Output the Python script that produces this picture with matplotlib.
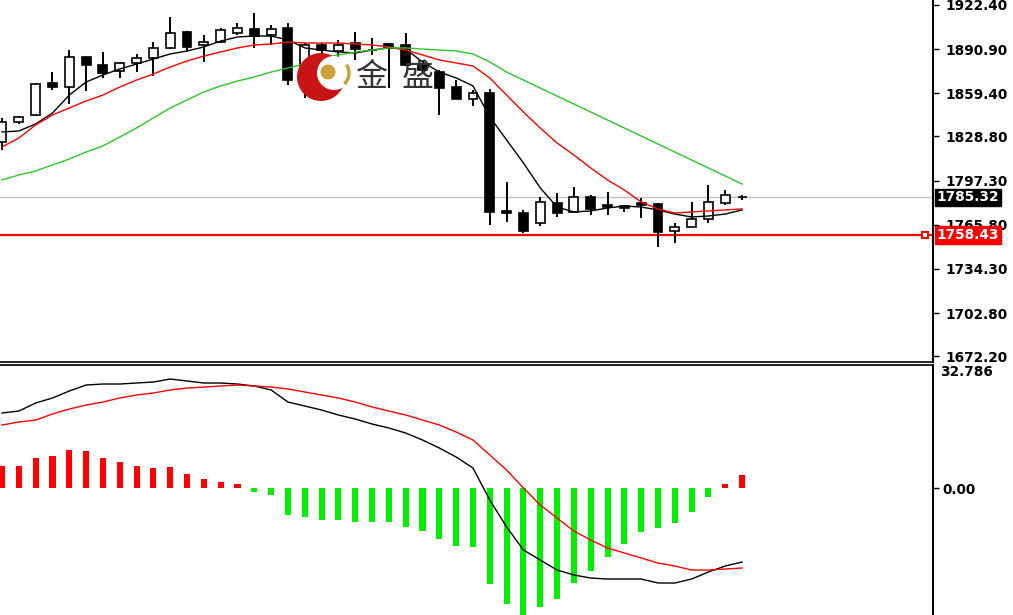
import numpy as np
import matplotlib.pyplot as plt
from matplotlib.patches import Ellipse, Arc
from matplotlib.transforms import blended_transform_factory

# candles (daily gold)
opens = [1824.8, 1839.0, 1844.0, 1866.8, 1864.0, 1885.3, 1879.6, 1875.4, 1881.1, 1884.6,
         1891.8, 1903.2, 1893.9, 1896.0, 1902.4, 1905.3, 1901.0, 1906.0, 1868.9, 1893.9,
         1889.6, 1895.3, 1890.3, 1894.6, 1893.9, 1880.3, 1874.6, 1864.0, 1855.4, 1859.7,
         1775.6, 1774.1, 1767.0, 1781.3, 1774.9, 1785.5, 1779.8, 1779.1, 1781.3, 1780.6,
         1761.3, 1764.2, 1769.9, 1781.3, 1785.2]
highs = [1841.9, 1843.3, 1866.8, 1874.6, 1890.3, 1885.6, 1888.9, 1881.8, 1887.5, 1896.0,
         1913.9, 1903.9, 1901.0, 1906.0, 1909.6, 1916.7, 1908.1, 1909.6, 1895.3, 1895.3,
         1897.4, 1903.2, 1898.9, 1895.3, 1902.4, 1883.2, 1876.1, 1868.9, 1861.8, 1862.5,
         1796.2, 1776.3, 1785.5, 1788.4, 1792.7, 1787.0, 1789.1, 1779.8, 1784.8, 1781.3,
         1767.0, 1782.0, 1794.1, 1790.5, 1787.0]
lows = [1819.0, 1837.6, 1843.3, 1861.8, 1851.8, 1861.1, 1870.4, 1870.4, 1874.6, 1871.8,
        1891.0, 1888.9, 1881.8, 1895.3, 1901.0, 1891.8, 1893.9, 1865.4, 1856.1, 1886.0,
        1881.8, 1883.2, 1886.8, 1863.2, 1878.9, 1873.2, 1844.0, 1855.4, 1850.4, 1765.6,
        1767.7, 1759.9, 1764.9, 1771.3, 1774.9, 1772.7, 1772.7, 1774.9, 1770.6, 1749.9,
        1752.8, 1764.2, 1767.0, 1779.8, 1783.4]
closes = [1839.0, 1842.6, 1866.1, 1864.0, 1885.3, 1879.6, 1873.9, 1881.1, 1884.6, 1891.8,
          1902.4, 1892.5, 1896.0, 1904.6, 1906.0, 1900.3, 1905.3, 1868.9, 1893.9, 1890.3,
          1893.9, 1891.0, 1890.0, 1891.8, 1879.6, 1876.1, 1863.2, 1855.4, 1859.7, 1774.9,
          1774.1, 1761.3, 1782.0, 1774.1, 1785.5, 1777.0, 1778.4, 1777.7, 1779.8, 1760.6,
          1764.2, 1769.9, 1782.0, 1787.0, 1785.32]

# moving averages
ma_fast = [1831.9, 1832.6, 1837.6, 1845.4, 1858.2, 1867.5, 1872.5, 1876.8, 1880.3, 1883.9,
           1887.5, 1889.6, 1892.5, 1896.7, 1899.6, 1900.3, 1900.3, 1897.5, 1891.8, 1890.3,
           1888.9, 1888.2, 1890.3, 1891.8, 1891.0, 1881.8, 1874.6, 1870.4, 1864.7, 1842.6,
           1826.2, 1809.8, 1792.0, 1778.4, 1774.9, 1775.6, 1777.7, 1779.1, 1778.4, 1776.3,
           1773.4, 1771.3, 1772.0, 1773.4, 1776.3]
ma_mid = [1821.2, 1827.6, 1836.9, 1844.0, 1849.0, 1854.0, 1858.2, 1863.9, 1868.9, 1873.2,
          1878.2, 1882.5, 1886.0, 1888.9, 1891.8, 1893.9, 1894.6, 1896.0, 1895.3, 1895.3,
          1895.3, 1894.6, 1893.9, 1892.5, 1890.3, 1886.8, 1883.2, 1881.1, 1878.9, 1870.4,
          1858.2, 1846.1, 1834.7, 1824.0, 1815.5, 1806.2, 1797.7, 1790.5, 1782.0, 1777.0,
          1774.1, 1774.9, 1775.6, 1776.3, 1777.0]
ma_slow = [1797.7, 1801.2, 1804.1, 1808.4, 1812.6, 1817.6, 1821.9, 1828.3, 1834.7, 1841.9,
           1849.0, 1854.7, 1860.4, 1864.7, 1868.2, 1871.1, 1874.6, 1877.5, 1880.5, 1884.6,
           1886.8, 1888.9, 1890.3, 1891.8, 1891.8, 1891.0, 1890.3, 1889.6, 1887.5, 1881.8,
           1874.6, 1868.9, 1863.2, 1857.5, 1851.8, 1846.1, 1840.4, 1834.7, 1829.0, 1823.3,
           1817.6, 1811.9, 1806.2, 1800.5, 1794.8]

# MACD panel
macd_hist = [5.91, 5.91, 8.14, 8.52, 10.21, 10.02, 8.14, 7.07, 5.91, 5.29,
             5.56, 3.76, 2.42, 1.69, 0.99, -0.99, -1.88, -7.26, -7.87, -8.60,
             -8.60, -9.06, -9.06, -9.06, -10.40, -11.48, -13.71, -15.51, -15.78, -25.80,
             -31.26, -34.5, -32.06, -29.83, -25.45, -22.23, -18.62, -14.97, -11.91, -10.83,
             -9.33, -6.37, -2.34, 1.07, 3.49]
macd_line = [20.16, 20.69, 22.84, 24.19, 26.07, 27.68, 27.95, 27.95, 28.22, 28.49,
             29.29, 28.76, 28.22, 28.22, 27.95, 27.41, 26.34, 23.11, 22.04, 20.96,
             19.62, 18.54, 17.20, 16.12, 14.78, 12.90, 10.75, 8.33, 5.37, -3.22,
             -10.48, -16.66, -19.35, -22.04, -23.38, -24.19, -24.46, -24.46, -24.46, -25.53,
             -25.53, -24.46, -22.57, -20.96, -19.89]
signal_line = [16.93, 17.74, 18.27, 19.89, 21.23, 22.31, 23.11, 24.19, 24.99, 25.53,
               26.34, 26.87, 27.14, 27.41, 27.68, 27.41, 27.14, 26.61, 25.80, 24.99,
               24.19, 23.11, 21.77, 20.69, 19.62, 18.27, 16.93, 15.05, 12.90, 8.87,
               4.84, 0.0, -4.57, -8.06, -11.56, -13.97, -16.12, -17.47, -18.81, -20.16,
               -20.96, -22.04, -22.04, -21.77, -21.50]

price_ticks = [1922.40, 1890.90, 1859.40, 1828.80, 1797.30, 1765.80, 1734.30, 1702.80, 1672.20]
last_price = 1785.32
support = 1758.43
macd_max = 32.786

W, H = 1013, 615
fig = plt.figure(figsize=(W / 100, H / 100), dpi=100)
ax1 = fig.add_axes([0, 1 - 362 / H, 933 / W, 362 / H])
ax2 = fig.add_axes([0, 0, 933 / W, 250 / H])

x = np.arange(len(opens))
o = np.array(opens); c = np.array(closes)

# --- price panel ---
ax1.vlines(x, lows, highs, color='black', lw=1.4, zorder=3)
up = c >= o
ax1.bar(x[up], (c - o)[up], bottom=o[up], width=0.53, facecolor='white',
        edgecolor='black', lw=1.2, zorder=4)
ax1.bar(x[~up], (o - c)[~up], bottom=c[~up], width=0.53, facecolor='black',
        edgecolor='black', lw=1.2, zorder=4)

ax1.plot(x, ma_fast, color='black', lw=1, zorder=5)
ax1.plot(x, ma_mid, color='#ff0000', lw=1, zorder=5)
ax1.plot(x, ma_slow, color='#2fc42f', lw=1, zorder=5)

ax1.axhline(last_price, color='#c0c0c0', lw=1, zorder=1)
ax1.axhline(support, color='#ff0000', lw=1.6, zorder=2)
bt = blended_transform_factory(ax1.transAxes, ax1.transData)
ax1.plot([925 / 933], [support], marker='s', ms=5, mfc='white', mec='#ff0000',
         mew=1.5, transform=bt, clip_on=False, zorder=6)

ax1.set_xlim(-0.12, 55.35)
ax1.set_ylim(1667.93, 1925.96)
ax1.yaxis.tick_right()
ax1.set_yticks(price_ticks)
ax1.set_yticklabels([f'{t:.2f}' for t in price_ticks], fontweight='bold')
ax1.set_xticks([])
ax1.tick_params(axis='y', length=4, width=1, pad=5, labelsize=9.8)

lbl = dict(transform=bt, ha='left', va='center', fontsize=9.8, fontweight='bold',
           color='white', clip_on=False, zorder=10)
ax1.text(1.004, last_price, f'{last_price:.2f}',
         bbox=dict(boxstyle='square,pad=0.12', fc='black', ec='black'), **lbl)
ax1.text(1.004, support, f'{support:.2f}',
         bbox=dict(boxstyle='square,pad=0.12', fc='#ff0000', ec='#ff0000'), **lbl)

# watermark logo
ta = ax1.transAxes
ax1.add_patch(Ellipse((321 / 933, 1 - 77 / 362), 48 / 933, 48 / 362, transform=ta,
                      fc='#c81414', ec='none', zorder=7))
ax1.add_patch(Ellipse((334 / 933, 1 - 73 / 362), 34 / 933, 34 / 362, transform=ta,
                      fc='white', ec='none', zorder=7))
ax1.add_patch(Arc((334 / 933, 1 - 73 / 362), 30 / 933, 30 / 362, theta1=-70, theta2=60,
                  transform=ta, color='#c9a23c', lw=2.5, zorder=8))
ax1.add_patch(Ellipse((328 / 933, 1 - 72 / 362), 15 / 933, 15 / 362, transform=ta,
                      fc='#c9a23c', ec='none', zorder=8))
for ch, cx in [('金', 372), ('盛', 418)]:
    ax1.text(cx / 933, 1 - 77 / 362, ch, transform=ta, ha='center', va='center',
             fontsize=23, color='#333333', family=['Noto Sans CJK SC', 'DejaVu Sans'],
             zorder=8)

for s in ['left', 'top']:
    ax1.spines[s].set_visible(False)
ax1.spines['right'].set_linewidth(1.5)
ax1.spines['bottom'].set_linewidth(1.2)

# --- MACD panel ---
h = np.array(macd_hist)
ax2.bar(x, h, width=0.36, color=np.where(h > 0, '#ff0000', '#00ee00'), zorder=2)
ax2.plot(x, macd_line, color='black', lw=1, zorder=3)
ax2.plot(x, signal_line, color='#ff0000', lw=1, zorder=3)
ax2.set_xlim(-0.12, 55.35)
ax2.set_ylim(-34.13, 33.06)
ax2.yaxis.tick_right()
ax2.set_yticks([0])
ax2.set_yticklabels(['0.00'], fontweight='bold')
ax2.set_xticks([])
ax2.tick_params(axis='y', length=4, width=1, pad=3, labelsize=9.8)
ax2.text(1.008, 1.0, f'{macd_max:.3f}', transform=ax2.transAxes, ha='left', va='top',
         fontsize=9.8, fontweight='bold', clip_on=False)
for s in ['left', 'bottom']:
    ax2.spines[s].set_visible(False)
ax2.spines['right'].set_linewidth(1.5)
ax2.spines['top'].set_linewidth(1.2)

fig.savefig('out.png', dpi=100)
